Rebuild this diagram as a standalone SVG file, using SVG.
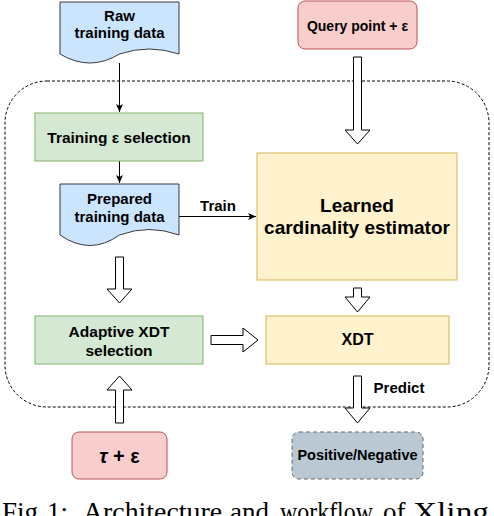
<svg xmlns="http://www.w3.org/2000/svg" width="494" height="516" viewBox="0 0 494 516">
<defs>
<style>
.t{font-family:"Liberation Sans",Arial,Helvetica,sans-serif;font-weight:bold;fill:#000;text-anchor:middle}
.doc{fill:#cce5ff;stroke:#36393d;stroke-width:1}
.green{fill:#d5e8d4;stroke:#82b366;stroke-width:1}
.yellow{fill:#fff2cc;stroke:#d6b656;stroke-width:1}
.red{fill:#f8cecc;stroke:#b85450;stroke-width:1}
.grey{fill:#bac8d3;stroke:#666666;stroke-width:1;stroke-dasharray:4 3}
.line{fill:none;stroke:#000;stroke-width:1}
.block{fill:#fff;stroke:#000;stroke-width:1}
.cap{font-family:"Liberation Serif","Times New Roman",serif;font-size:27px;fill:#000}
</style>
<marker id="ah" markerWidth="9" markerHeight="8" refX="8" refY="3.5" orient="auto" markerUnits="userSpaceOnUse">
<path d="M0,0 L8,3.5 L0,7 L2,3.5 Z" fill="#000"/>
</marker>
</defs>

<rect id="container" x="5" y="81" width="484" height="326" rx="42" ry="42" fill="none" stroke="#000" stroke-width="1" stroke-dasharray="3 2"/>

<g id="connectors">
<line class="line" x1="119.5" y1="63" x2="119.5" y2="112" marker-end="url(#ah)"/>
<line class="line" x1="119.5" y1="161" x2="119.5" y2="183" marker-end="url(#ah)"/>
<line class="line" x1="179" y1="216.5" x2="256" y2="216.5" marker-end="url(#ah)"/>
<text class="t" x="218" y="211" font-size="15">Train</text>
<path class="block" d="M353.5,57 H361.5 V130 H370 L357.5,144 L345,130 H353.5 Z"/>
<path class="block" d="M115.5,257 H123.5 V289 H132 L119.5,303 L107,289 H115.5 Z"/>
<path class="block" d="M115.5,423 H123.5 V390 H132 L119.5,376 L107,390 H115.5 Z"/>
<path class="block" d="M211,335.5 H243 V328 L258,340 L243,352 V344.5 H211 Z"/>
<path class="block" d="M353.5,288 H361.5 V297 H370 L357.5,312 L345,297 H353.5 Z"/>
<path class="block" d="M353.5,376 H361.5 V408 H370 L357.5,423 L345,408 H353.5 Z"/>
<text class="t" x="399" y="393" font-size="15">Predict</text>
</g>

<g id="raw">
<path class="doc" d="M60,2 H179 V54 Q149,44 119.5,54 Q90,72 60,54 Z"/>
<text class="t" x="119.5" y="21" font-size="15">Raw</text>
<text class="t" x="119.5" y="38" font-size="15">training data</text>
</g>

<g id="training-eps">
<rect class="green" x="35" y="113" width="168" height="48"/>
<text class="t" x="119" y="143" font-size="15.5">Training ε selection</text>
</g>

<g id="prepared">
<path class="doc" d="M60,184 H179 V235 Q149,224 119.5,235 Q90,256 60,235 Z"/>
<text class="t" x="119.5" y="204" font-size="15">Prepared</text>
<text class="t" x="119.5" y="222" font-size="15">training data</text>
</g>

<g id="query">
<rect class="red" x="298" y="1" width="119" height="48" rx="7" ry="7"/>
<text class="t" x="357.5" y="31" font-size="14">Query point + ε</text>
</g>

<g id="learned">
<rect class="yellow" x="257" y="153" width="200" height="127"/>
<text class="t" x="357" y="212" font-size="19">Learned</text>
<text class="t" x="357" y="234" font-size="19">cardinality estimator</text>
</g>

<g id="adaptive">
<rect class="green" x="35" y="316" width="168" height="48"/>
<text class="t" x="119" y="337" font-size="15.5">Adaptive XDT</text>
<text class="t" x="119" y="356" font-size="15.5">selection</text>
</g>

<g id="xdt">
<rect class="yellow" x="266" y="316" width="183" height="48"/>
<text class="t" x="357.5" y="345" font-size="16">XDT</text>
</g>

<g id="tau-eps">
<rect class="red" x="72" y="432" width="95" height="47" rx="7" ry="7"/>
<text class="t" x="119.5" y="463" font-size="20"><tspan font-style="italic">τ</tspan> + ε</text>
</g>

<g id="posneg">
<rect class="grey" x="292" y="432" width="131" height="47" rx="7" ry="7"/>
<text class="t" x="357.5" y="460" font-size="14.5">Positive/Negative</text>
</g>

<text class="cap" y="521"><tspan x="2">Fig.</tspan><tspan x="47">1:</tspan><tspan x="83" textLength="139" lengthAdjust="spacingAndGlyphs">Architecture</tspan><tspan x="230">and</tspan><tspan x="280" textLength="93" lengthAdjust="spacingAndGlyphs">workflow</tspan><tspan x="383">of</tspan><tspan x="413" textLength="76" lengthAdjust="spacingAndGlyphs">Xling</tspan></text>
</svg>
